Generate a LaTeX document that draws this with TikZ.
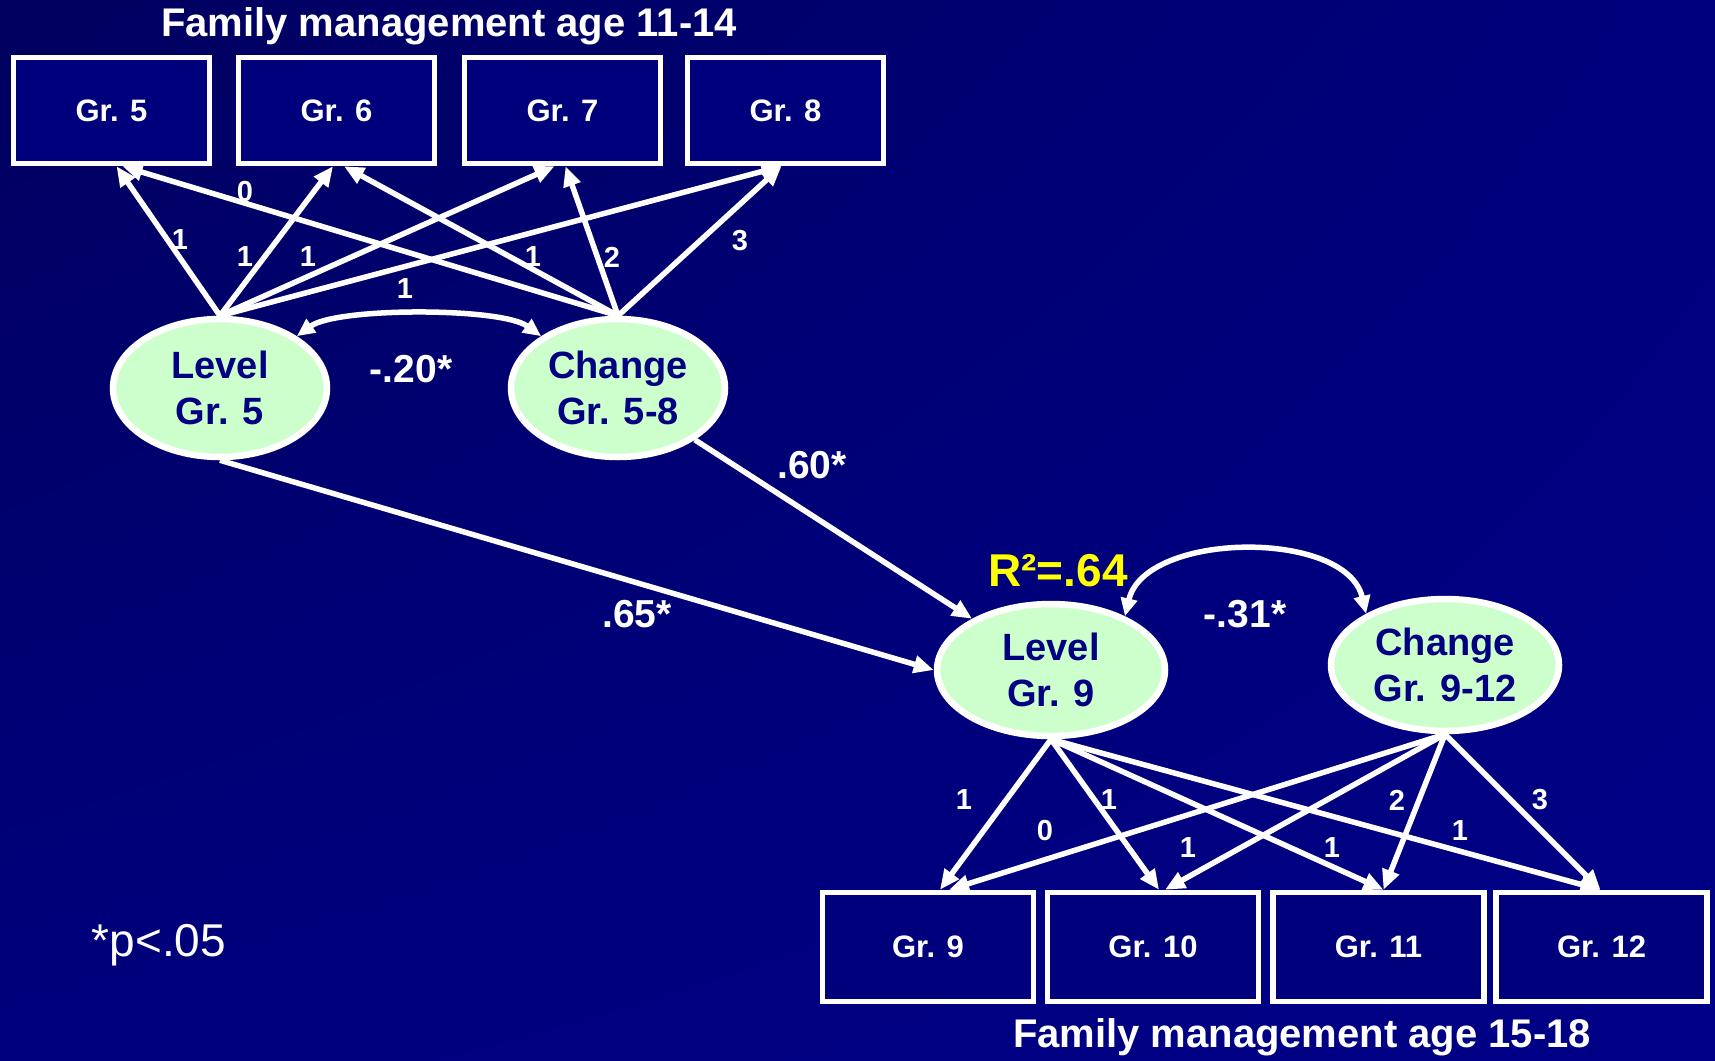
\documentclass[tikz,border=0pt]{standalone}
\usepackage{fontspec}
\setmainfont{Liberation Sans}
\usetikzlibrary{shapes.geometric,arrows.meta,calc,shadings}
\definecolor{bgA}{RGB}{0,0,95}
\definecolor{bgB}{RGB}{0,0,125}
\definecolor{bgC}{RGB}{0,0,135}
\definecolor{navytxt}{RGB}{0,0,128}
\definecolor{latfill}{RGB}{204,255,204}
\definecolor{rsq}{RGB}{255,255,0}
\tikzset{
  obsbox/.style={draw=white, line width=5.5pt, fill=bgB, minimum width=#1, minimum height=106pt, inner sep=0pt,
     text=white, font=\fontsize{31}{33}\selectfont\bfseries},
  latent/.style={ellipse, draw=white, line width=6.5pt, fill=latfill, inner sep=0pt,
     text=navytxt, align=center, font=\fontsize{38}{46}\selectfont\bfseries},
  sarrow/.style={draw=white, line width=5.5pt, -{Triangle[length=20pt,width=17pt]}},
  cov/.style={draw=white, line width=5.5pt, {Triangle[length=18pt,width=16pt]}-{Triangle[length=18pt,width=16pt]}},
  wlab/.style={text=white, font=\fontsize{29}{31}\selectfont\bfseries, inner sep=0pt},
  blab/.style={text=white, font=\fontsize{39}{41}\selectfont\bfseries, inner sep=0pt},
  ttl/.style={text=white, font=\fontsize{40}{42}\selectfont\bfseries, inner sep=0pt},
}
\begin{document}
\begin{tikzpicture}[x=1pt,y=-1pt]
\shade[upper left=bgA, upper right=bgB, lower left=bgB, lower right=bgC] (0,0) rectangle (1715,1060);
\useasboundingbox (0,0) rectangle (1715,1060);

% titles
\node[ttl] (t1) at (449,26) {Family management age 11-14};
\node[ttl] (t2) at (1302,1037) {Family management age 15-18};

% top boxes
\node[obsbox=196pt] (g5) at (111.5,110.5) {Gr. 5};
\node[obsbox=196pt] (g6) at (336.5,110.5) {Gr. 6};
\node[obsbox=196pt] (g7) at (562.5,110.5) {Gr. 7};
\node[obsbox=196pt] (g8) at (785.5,110.5) {Gr. 8};

% bottom boxes
\node[obsbox=211pt, minimum height=109pt] (g9) at (928,947) {Gr. 9};
\node[obsbox=211pt, minimum height=109pt] (g10) at (1153,947) {Gr. 10};
\node[obsbox=211pt, minimum height=109pt] (g11) at (1378.5,947) {Gr. 11};
\node[obsbox=211pt, minimum height=109pt] (g12) at (1601.5,947) {Gr. 12};

% latent variables
\node[latent, minimum width=214pt, minimum height=138pt] (lv5) at (220,388) {Level\\Gr. 5};
\node[latent, minimum width=214pt, minimum height=138pt] (ch5) at (618,388) {Change\\Gr. 5-8};
\node[latent, minimum width=228pt, minimum height=132pt] (lv9) at (1051,670) {Level\\Gr. 9};
\node[latent, minimum width=228pt, minimum height=132pt] (ch9) at (1445,665) {Change\\Gr. 9-12};

% top loadings
\draw[sarrow] (lv5.north) -- ([xshift=5pt]g5.south);
\draw[sarrow] (lv5.north) -- ([xshift=-3.5pt]g6.south);
\draw[sarrow] (lv5.north) -- ([xshift=-8pt]g7.south);
\draw[sarrow] (lv5.north) -- ([xshift=-4pt]g8.south);
\draw[sarrow] (ch5.north) -- ([xshift=11pt]g5.south);
\draw[sarrow] (ch5.north) -- ([xshift=7.5pt]g6.south);
\draw[sarrow] (ch5.north) -- ([xshift=3pt]g7.south);
\draw[sarrow] (ch5.north) -- ([xshift=-4pt]g8.south);

% bottom loadings
\draw[sarrow] (lv9.south) -- ([xshift=12pt]g9.north);
\draw[sarrow] (lv9.south) -- ([xshift=6pt]g10.north);
\draw[sarrow] (lv9.south) -- ([xshift=5pt]g11.north);
\draw[sarrow] (lv9.south) -- ([xshift=-1pt]g12.north);
\draw[sarrow] (ch9.south) -- ([xshift=21pt]g9.north);
\draw[sarrow] (ch9.south) -- ([xshift=12pt]g10.north);
\draw[sarrow] (ch9.south) -- ([xshift=5pt]g11.north);
\draw[sarrow] (ch9.south) -- ([xshift=-1pt]g12.north);

% structural paths
\draw[sarrow] (lv5.south) -- (lv9.west);
\draw[sarrow] (ch5.-34) -- (lv9.147);

% covariances
\draw[cov] (lv5.34) .. controls +(40,-29) and +(-40,-29) .. (ch5.146);
\draw[cov] (lv9.36) .. controls +(20,-85) and +(-20,-85) .. (ch9.147);

% top labels
\node[wlab] (a0) at (245,192) {0};
\node[wlab] (a1) at (180,240) {1};
\node[wlab] (a2) at (245,257) {1};
\node[wlab] (a3) at (308,257) {1};
\node[wlab] (a4) at (405,289) {1};
\node[wlab] (a5) at (533,257) {1};
\node[wlab] (a6) at (612,257) {2};
\node[wlab] (a7) at (740,241) {3};

% bottom labels
\node[wlab] (b1) at (964,800) {1};
\node[wlab] (b2) at (1109,800) {1};
\node[wlab] (b3) at (1045,831) {0};
\node[wlab] (b4) at (1188,848) {1};
\node[wlab] (b5) at (1332,848) {1};
\node[wlab] (b6) at (1397,800) {2};
\node[wlab] (b7) at (1460,831) {1};
\node[wlab] (b8) at (1540,800) {3};

% coefficients
\node[blab] (c1) at (411,369) {-.20*};
\node[blab] (c2) at (812,465) {.60*};
\node[blab] (c3) at (637,614) {.65*};
\node[blab] (c4) at (1245,614) {-.31*};
\node[text=rsq, font=\fontsize{46}{48}\selectfont\bfseries, inner sep=0pt] (r2) at (1058,571) {R²=.64};

% note
\node[text=white, font=\fontsize{46}{48}\selectfont, inner sep=0pt] (pn) at (159,945) {*p<.05};
\end{tikzpicture}
\end{document}
